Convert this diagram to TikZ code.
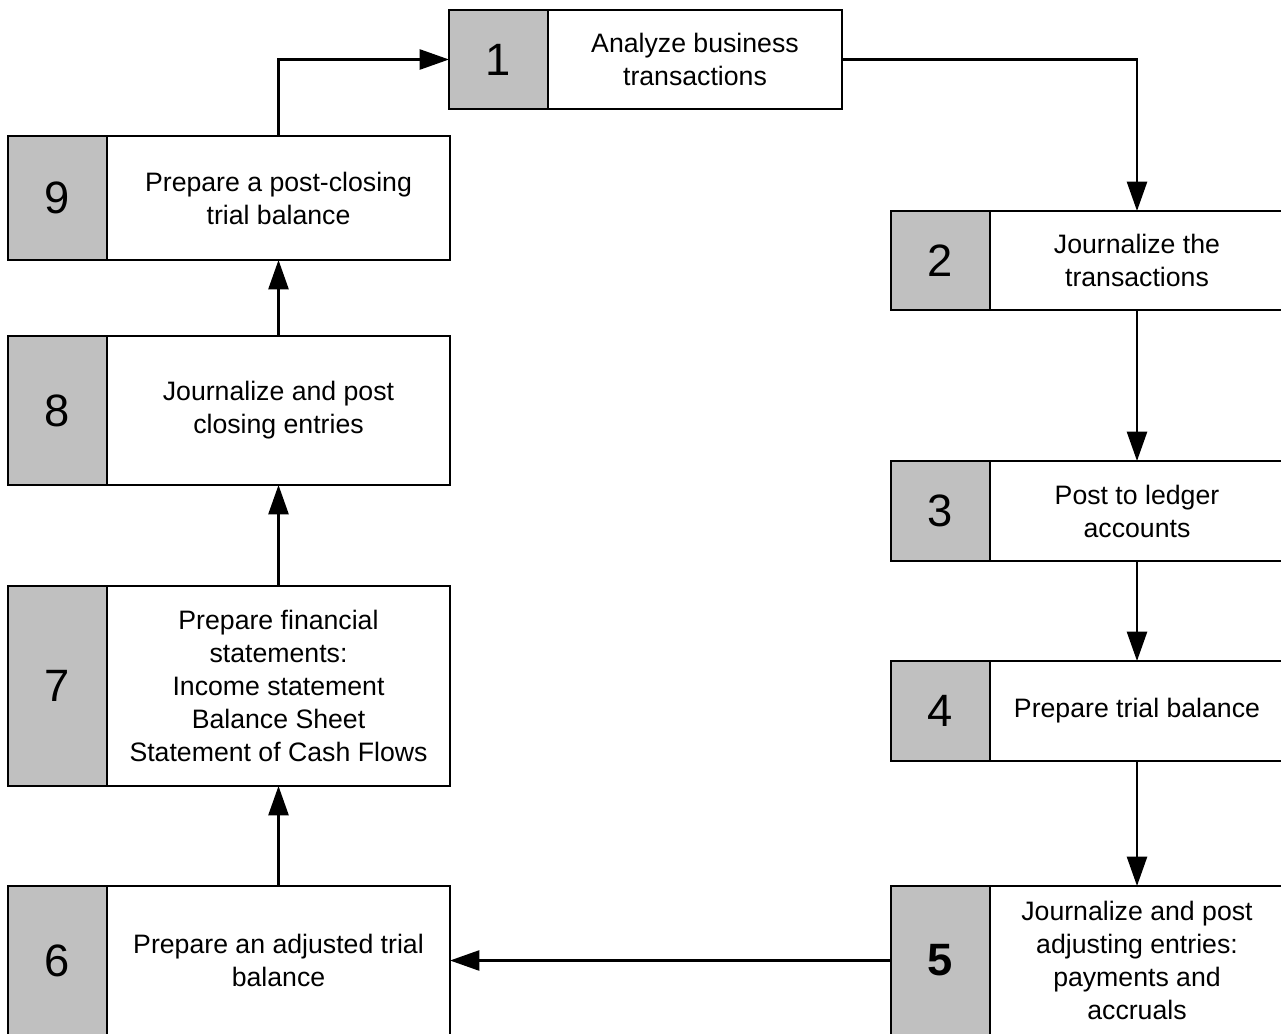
\documentclass[tikz,border=0pt]{standalone}
\usepackage{fontspec}
\setmainfont{Liberation Sans}
\usetikzlibrary{arrows.meta}
\begin{document}
\begin{tikzpicture}[x=0.75pt,y=-0.75pt,
  numbox/.style={draw=black, line width=1.9pt, fill=gray!50!white!95!black, inner sep=0pt, outer sep=0pt, anchor=north west, minimum width=74.25pt, font=\fontsize{34}{38}\selectfont},
  txtbox/.style={draw=black, line width=1.9pt, fill=white, inner sep=0pt, outer sep=0pt, anchor=north west, align=center, font=\fontsize{20}{24.75}\selectfont},
  arr/.style={line width=1.9pt, -{Triangle[length=22pt,width=15pt]}}]
\useasboundingbox (0,0) rectangle (1281,1034);
\clip (0,0) rectangle (1281,1034);
\definecolor{boxgray}{HTML}{C0C0C0}
\tikzset{numbox/.append style={fill=boxgray}}
% step 1
\node[numbox, minimum height=74.25pt] (n1) at (449,10) {1};
\node[txtbox, minimum width=220.5pt, minimum height=74.25pt] (t1) at (548,10) {Analyze business\\transactions};
% step 2
\node[numbox, minimum height=74.25pt] (n2) at (891,211) {2};
\node[txtbox, minimum width=220.5pt, minimum height=74.25pt] (t2) at (990,211) {Journalize the\\transactions};
% step 3
\node[numbox, minimum height=75pt] (n3) at (891,461) {3};
\node[txtbox, minimum width=220.5pt, minimum height=75pt] (t3) at (990,461) {Post to ledger\\accounts};
% step 4
\node[numbox, minimum height=75pt] (n4) at (891,661) {4};
\node[txtbox, minimum width=220.5pt, minimum height=75pt] (t4) at (990,661) {Prepare trial balance};
% step 5
\node[numbox, minimum height=111.75pt, font=\fontsize{34}{38}\selectfont\bfseries] (n5) at (891,886) {5};
\node[txtbox, minimum width=220.5pt, minimum height=111.75pt] (t5) at (990,886) {Journalize and post\\adjusting entries:\\payments and\\accruals};
% step 6
\node[numbox, minimum height=111.75pt] (n6) at (8,886) {6};
\node[txtbox, minimum width=257.25pt, minimum height=111.75pt] (t6) at (107,886) {Prepare an adjusted trial\\balance};
% step 7
\node[numbox, minimum height=150pt] (n7) at (8,586) {7};
\node[txtbox, minimum width=257.25pt, minimum height=150pt] (t7) at (107,586) {Prepare financial\\statements:\\Income statement\\Balance Sheet\\Statement of Cash Flows};
% step 8
\node[numbox, minimum height=111.75pt] (n8) at (8,336) {8};
\node[txtbox, minimum width=257.25pt, minimum height=111.75pt] (t8) at (107,336) {Journalize and post\\closing entries};
% step 9
\node[numbox, minimum height=93pt] (n9) at (8,136) {9};
\node[txtbox, minimum width=257.25pt, minimum height=93pt] (t9) at (107,136) {Prepare a post-closing\\trial balance};
% connectors
\draw[arr] (t1.east) -| (t2.north);
\draw[arr] (t2.south) -- (t3.north);
\draw[arr] (t3.south) -- (t4.north);
\draw[arr] (t4.south) -- (t5.north);
\draw[arr] (n5.west) -- (t6.east);
\draw[arr] (t6.north) -- (t7.south);
\draw[arr] (t7.north) -- (t8.south);
\draw[arr] (t8.north) -- (t9.south);
\draw[arr] (t9.north) |- (n1.west);
\end{tikzpicture}
\end{document}
